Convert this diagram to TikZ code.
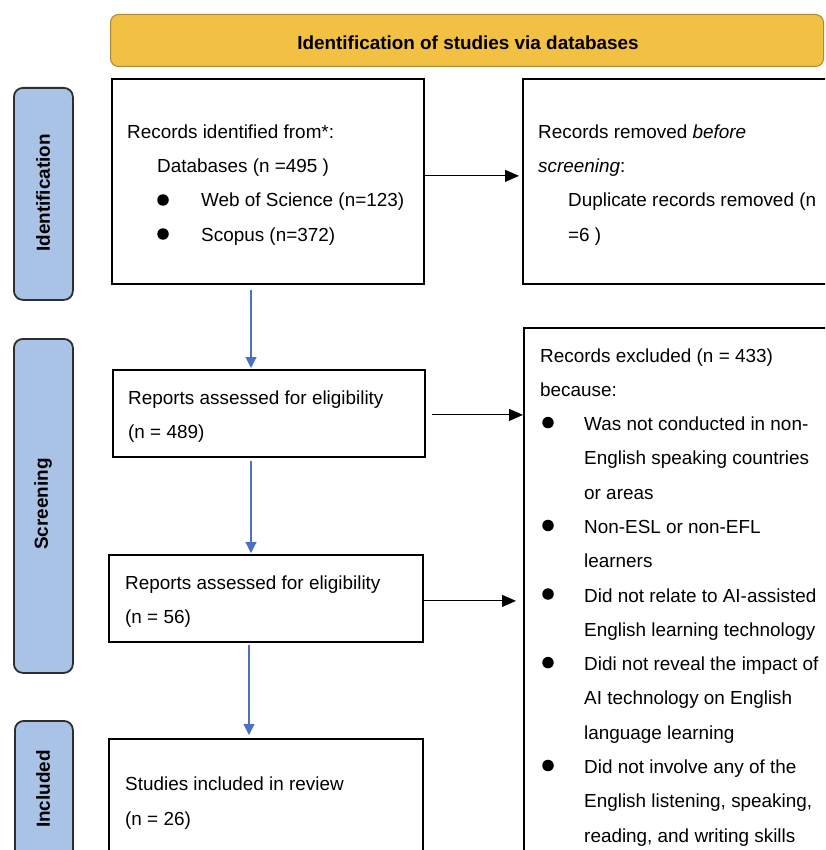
\documentclass[tikz,border=0pt]{standalone}
\usepackage{fontspec}
\setmainfont{Liberation Sans}
\usetikzlibrary{arrows.meta,calc}
\definecolor{bannerfill}{HTML}{F2C043}
\definecolor{bannerdraw}{HTML}{A8893A}
\definecolor{phasefill}{HTML}{A8C3E6}
\definecolor{phasedraw}{HTML}{2E2E2E}
\definecolor{flowblue}{HTML}{4A72C4}
\begin{document}
\begin{tikzpicture}[x=1pt,y=-1pt,
  box/.style={draw=black,line width=1.8pt,inner sep=0pt,rectangle,anchor=north west},
  banner/.style={draw=bannerdraw,fill=bannerfill,line width=1pt,rounded corners=8pt,inner sep=0pt,anchor=north west},
  phase/.style={draw=phasedraw,fill=phasefill,line width=1.8pt,rounded corners=9pt,inner sep=0pt,anchor=north west},
  txt/.style={anchor=base west,inner sep=0pt,font=\fontsize{18.9pt}{22pt}\selectfont},
  bold/.style={inner sep=0pt,font=\fontsize{18.9pt}{22pt}\selectfont\bfseries},
  bul/.style={circle,fill=black,inner sep=0pt,minimum size=11.5pt},
  blk/.style={draw=black,line width=1.1pt,-{Triangle[length=14pt,width=12pt]}},
  blu/.style={draw=flowblue,line width=1.1pt,-{Triangle[length=11pt,width=11pt]}}]
\useasboundingbox (0,0) rectangle (825,850);
\clip (0,0) rectangle (825,850);
\fill[white] (0,0) rectangle (825,850);

% banner
\node[banner,minimum width=713pt,minimum height=52pt] (ban) at (110,14) {};
\node[bold] (bantxt) at (468,43) {Identification of studies via databases};

% phase labels
\node[phase,minimum width=59pt,minimum height=212pt] (ph1) at (13,87) {};
\node[bold,rotate=90] (ph1t) at (43,193) {Identification};
\node[phase,minimum width=59pt,minimum height=334pt] (ph2) at (13,338) {};
\node[bold,rotate=90] (ph2t) at (43,504) {Screening};
\node[phase,minimum width=58pt,minimum height=170pt] (ph3) at (14,720) {};
\node[bold,rotate=90] (ph3t) at (43,789) {Included};

% boxes
\node[box,minimum width=312pt,minimum height=205pt] (box1) at (111,78) {};
\node[box,minimum width=320pt,minimum height=205pt] (box2) at (522,78) {};
\node[box,minimum width=312pt,minimum height=87pt] (box3) at (112,369) {};
\node[box,minimum width=314pt,minimum height=87pt] (box4) at (108,554) {};
\node[box,minimum width=320pt,minimum height=560pt] (box5) at (523,327) {};
\node[box,minimum width=314pt,minimum height=150pt] (box6) at (108,738) {};

% box1 text
\node[txt] (t11) at (127,139) {Records identified from*:};
\node[txt] (t12) at (157,173) {Databases (n =495 )};
\node[bul] (b11) at (163,200) {};
\node[txt] (t13) at (201,207) {Web of Science (n=123)};
\node[bul] (b12) at (163,234) {};
\node[txt] (t14) at (201,241) {Scopus (n=372)};

% box2 text
\node[txt] (t21) at (538,139) {Records removed \textit{before}};
\node[txt] (t22) at (538,173) {\textit{screening}:};
\node[txt] (t23) at (568,207) {Duplicate records removed (n};
\node[txt] (t24) at (568,241) {=6 )};

% box3 / box4 / box6 text
\node[txt] (t31) at (128,404) {Reports assessed for eligibility};
\node[txt] (t32) at (128,438) {(n = 489)};
\node[txt] (t41) at (125,589) {Reports assessed for eligibility};
\node[txt] (t42) at (125,623) {(n = 56)};
\node[txt] (t61) at (125,790) {Studies included in review};
\node[txt] (t62) at (125,825) {(n = 26)};

% box5 text
\node[txt] (e0) at (540,362) {Records excluded (n = 433)};
\node[txt] (e1) at (540,396.3) {because:};
\foreach \t [count=\k from 2] in {{Was not conducted in non-},{English speaking countries},{or areas},{Non-ESL or non-EFL},{learners},{Did not relate to AI-assisted},{English learning technology},{Didi not reveal the impact of},{AI technology on English},{language learning},{Did not involve any of the},{English listening, speaking,},{reading, and writing skills}}{
  \node[txt] (e\k) at (584,{362+34.29*\k}) {\t};
}
\foreach \k in {2,5,7,9,12}{
  \node[bul] (eb\k) at (548,{354+34.29*\k}) {};
}

% connectors
\coordinate (ax1) at (251,0);
\coordinate (ax3) at (249,0);
\draw[blk,shorten >=3pt] ([yshift=5.5pt]box1.east) -- ([yshift=5.5pt]box1.east -| box2.west);
\draw[blk,shorten <=6pt] ([yshift=-1.5pt]box3.east) -- ([yshift=-1.5pt]box3.east -| box5.west);
\draw[blk,shorten >=7pt] ([yshift=-2.5pt]box4.east) -- ([yshift=-2.5pt]box4.east -| box5.west);
\draw[blu,shorten <=5pt,shorten >=1pt] (box1.south -| ax1) -- (box3.north -| ax1);
\draw[blu,shorten <=3pt,shorten >=1pt] (box3.south -| ax1) -- (box4.north -| ax1);
\draw[blu,shorten <=2pt,shorten >=3pt] (box4.south -| ax3) -- (box6.north -| ax3);
\end{tikzpicture}
\end{document}
